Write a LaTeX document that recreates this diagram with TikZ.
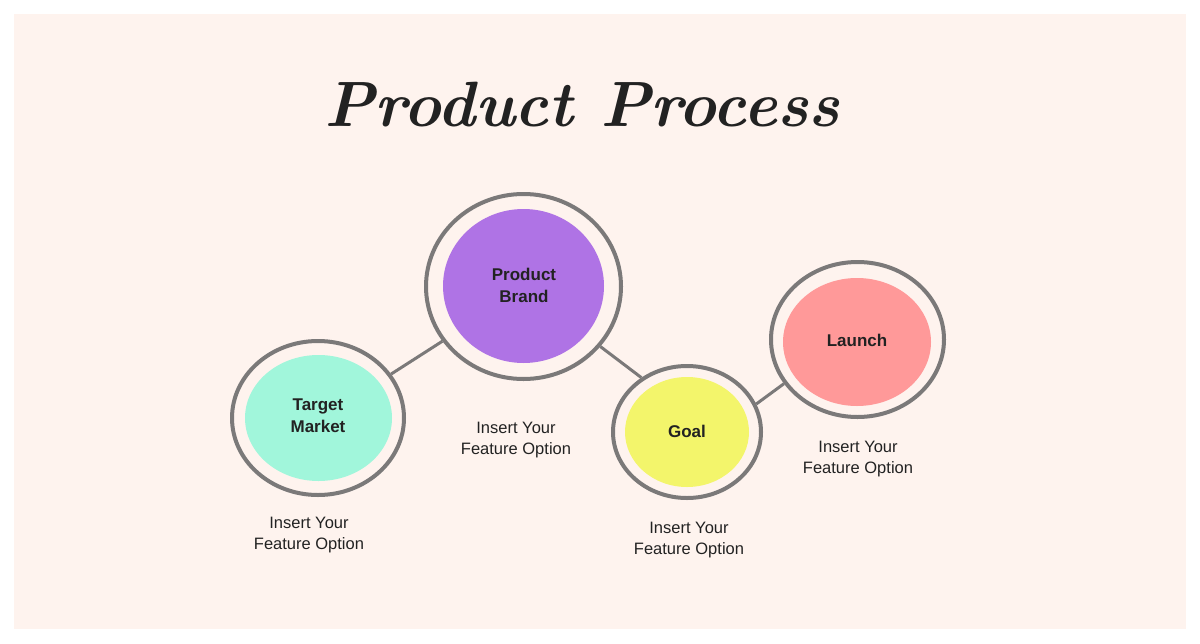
\documentclass[tikz,border=0pt]{standalone}
\usepackage{fontspec}
\usepackage{graphicx}
\setmainfont{Liberation Sans}
\newfontfamily\ttlfont{Latin Modern Roman}
\usetikzlibrary{shapes.geometric}
\definecolor{bgpeach}{HTML}{FEF3EE}
\definecolor{ringgray}{HTML}{7B7979}
\definecolor{txt}{HTML}{222222}
\definecolor{cteal}{HTML}{A1F6DB}
\definecolor{cpurple}{HTML}{AF73E5}
\definecolor{cyellow}{HTML}{F3F56B}
\definecolor{cpink}{HTML}{FF9999}
\begin{document}
\begin{tikzpicture}[x=1pt,y=-1pt,
  ring/.style={ellipse, draw=ringgray, line width=4pt, inner sep=0pt, fill=bgpeach},
  blob/.style={ellipse, inner sep=0pt, font=\bfseries\fontsize{17}{22}\selectfont, text=txt, align=center},
  note/.style={font=\fontsize{16.5}{21}\selectfont, text=txt, align=center, inner sep=0pt},
  link/.style={draw=ringgray, line width=3pt}]
\useasboundingbox (0,0) rectangle (1200,643);
\fill[white] (0,0) rectangle (1200,643);
\fill[bgpeach] (14,14) rectangle (1186,629);
% title
\node[text=txt, inner sep=0pt] (title) at (582,105) {\resizebox{515pt}{!}{\ttlfont\bfseries\itshape Product Process}};
\path (318,418) coordinate (ctm) (523.5,286.5) coordinate (cpb) (687,432) coordinate (cgo) (857.5,339.5) coordinate (cla);
% rings
\node[ring, minimum width=172pt, minimum height=154pt] (tm) at (ctm) {};
\node[ring, minimum width=195pt, minimum height=185pt] (pb) at (cpb) {};
\node[ring, minimum width=148pt, minimum height=132pt] (go) at (cgo) {};
\node[ring, minimum width=173pt, minimum height=155pt] (la) at (cla) {};
\draw[link] (tm.31) -- (pb.-146);
\draw[link] (pb.-38) -- (go.130);
\draw[link] (go.22) -- (la.-149);
% inner blobs
\node[blob, fill=cteal, minimum width=147pt, minimum height=126pt] (tmi) at (318.5,418) {};
\node[blob, fill=cpurple, minimum width=161pt, minimum height=154pt] (pbi) at (523.5,286) {};
\node[blob, fill=cyellow, minimum width=124pt, minimum height=110pt] (goi) at (687,432) {};
\node[blob, fill=cpink, minimum width=148pt, minimum height=128pt] (lai) at (857,342) {};
% labels
\node[blob] (tml) at (318,416) {Target\\Market};
\node[blob] (pbl) at (524,285) {Product\\Brand};
\node[blob] (gol) at (687,431) {Goal};
\node[blob] (lal) at (857,340) {Launch};
% notes
\node[note] (tmn) at (309,535) {Insert Your\\Feature Option};
\node[note] (pbn) at (516,440.5) {Insert Your\\Feature Option};
\node[note] (gon) at (689,540.5) {Insert Your\\Feature Option};
\node[note] (lan) at (858,459.5) {Insert Your\\Feature Option};
\end{tikzpicture}
\end{document}
